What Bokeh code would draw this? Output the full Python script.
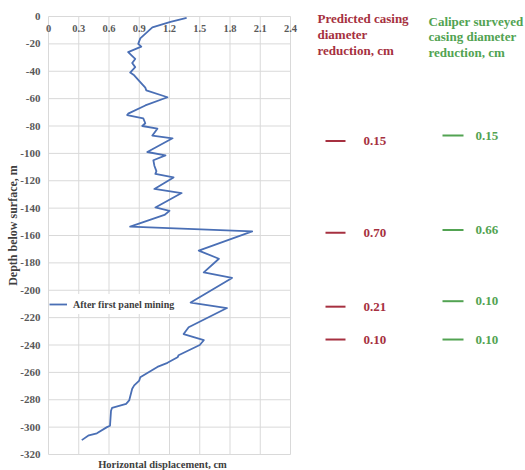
import math
from bokeh.plotting import figure
from bokeh.models import Range1d, Legend, LegendItem
from bokeh.core.properties import value
from bokeh.embed import file_html
from bokeh.resources import INLINE

# Horizontal displacement profile of the casing (depth in m, displacement in cm)
depth = [-1, -4, -8, -12, -16, -20, -22, -26, -31, -34, -37, -41, -43, -48, -52, -54,
         -59, -65, -71, -72, -74.5, -78, -80, -82, -87, -89, -99, -101.5, -105, -109,
         -113, -115, -117.6, -126, -129, -139.5, -142, -145, -153.5, -157, -171, -177,
         -187, -191, -209, -213, -227, -232, -236.5, -240, -247.5, -249, -253, -256,
         -263.5, -266, -269.5, -272, -280.5, -283, -286, -288, -299, -300, -304.5,
         -306, -309.5]
disp = [1.37, 1.21, 1.03, 0.97, 0.91, 0.89, 0.92, 0.79, 0.86, 0.83, 0.86, 0.81, 0.85,
        0.91, 0.96, 0.97, 1.18, 0.96, 0.79, 0.78, 0.94, 0.96, 0.93, 1.08, 1.03, 1.23,
        0.98, 1.16, 1.04, 1.05, 1.07, 1.06, 1.24, 1.05, 1.32, 1.06, 1.20, 1.15, 0.81,
        2.02, 1.49, 1.69, 1.54, 1.82, 1.41, 1.77, 1.39, 1.34, 1.54, 1.50, 1.29, 1.28,
        1.18, 1.08, 0.91, 0.90, 0.85, 0.83, 0.80, 0.77, 0.63, 0.62, 0.61, 0.58, 0.48,
        0.40, 0.33]

x_ticks = [0, 0.3, 0.6, 0.9, 1.2, 1.5, 1.8, 2.1, 2.4]
x_tick_labels = ["0", "0.3", "0.6", "0.9", "1.2", "1.5", "1.8", "2.1", "2.4"]
y_ticks = [0, -20, -40, -60, -80, -100, -120, -140, -160, -180, -200, -220, -240,
           -260, -280, -300, -320]
y_tick_labels = [str(t) for t in y_ticks]

# Casing diameter reductions at the deformation zones
pred_depth = [-91, -158, -212, -236]
pred_val = [0.15, 0.70, 0.21, 0.10]
cal_depth = [-87, -156, -208, -236]
cal_val = [0.15, 0.66, 0.10, 0.10]

pred_title = ["Predicted casing", "diameter", "reduction, cm"]
cal_title = ["Caliper surveyed", "casing diameter", "reduction, cm"]

SERIF = value("Liberation Serif")
GRID = "#D9D9D9"
BLUE = "#4A6FB5"
RED = "#A63040"
GREEN = "#52A352"
TICK = "#595959"
TITLE = "#404040"

W, H = 525, 470
# plot box: x 0..2.4 spans pixels 48..290, depth 0..-320 spans pixels 16..454
X0_PX, X1_PX = 48, 290
Y0_PX, Y1_PX = 16, 454
sx = (X1_PX - X0_PX) / 2.4
sy = (Y1_PX - Y0_PX) / 320.0

p = figure(width=W, height=H,
           x_range=Range1d(-X0_PX / sx, (W - X0_PX) / sx),
           y_range=Range1d(-(H - Y0_PX) / sy, Y0_PX / sy),
           output_backend="svg", toolbar_location=None,
           x_axis_location=None, y_axis_location=None,
           min_border=0, min_border_left=0, min_border_right=0,
           min_border_top=0, min_border_bottom=0)
p.grid.visible = False
p.outline_line_color = None
p.background_fill_color = "white"
p.border_fill_color = "white"
# pixel-based ranges for the side panel
p.extra_x_ranges = {"px": Range1d(0, W)}
p.extra_y_ranges = {"px": Range1d(H, 0)}

# gridlines of the displacement plot
p.segment(x0=[0] * len(y_ticks), x1=[2.4] * len(y_ticks), y0=y_ticks, y1=y_ticks,
          line_color=GRID, line_width=1)
p.segment(x0=x_ticks, x1=x_ticks, y0=[-320] * len(x_ticks), y1=[0] * len(x_ticks),
          line_color=GRID, line_width=1)

# tick labels
p.text(x=x_ticks, y=[0] * len(x_ticks), text=x_tick_labels, y_offset=12,
       text_align="center", text_baseline="middle", text_font=SERIF,
       text_font_style="bold", text_font_size="10.5px", text_color=TICK)
p.text(x=[0] * len(y_ticks), y=y_ticks, text=y_tick_labels, x_offset=-8,
       text_align="right", text_baseline="middle", text_font=SERIF,
       text_font_style="bold", text_font_size="11px", text_color=TICK)

# axis titles
p.text(x=[162], y=[-320], text=["Horizontal displacement, cm"], y_offset=10,
       x_range_name="px", text_align="center", text_baseline="middle",
       text_font=SERIF, text_font_style="bold", text_font_size="10.5px",
       text_color=TITLE)
p.text(x=[12], y=[225], text=["Depth below surface, m"], x_range_name="px",
       y_range_name="px", angle=math.pi / 2, text_align="center",
       text_baseline="middle", text_font=SERIF, text_font_style="bold",
       text_font_size="12px", text_color=TITLE)

line = p.line(disp, depth, line_color=BLUE, line_width=1.8, line_join="round")

legend = Legend(items=[LegendItem(label="After first panel mining", renderers=[line])],
                location=(49, 156), padding=6, margin=0, spacing=0,
                glyph_width=18, label_standoff=6, border_line_color=None,
                background_fill_color="white", background_fill_alpha=1.0,
                label_text_font="Liberation Serif", label_text_font_style="bold",
                label_text_font_size="10px", label_text_color=TITLE)
p.add_layout(legend)

# side panel: predicted vs. surveyed casing diameter reduction
p.text(x=[317] * 3, y=[18, 34, 50], text=pred_title, x_range_name="px",
       y_range_name="px", text_baseline="middle", text_font=SERIF,
       text_font_style="bold", text_font_size="13px", text_color=RED)
p.text(x=[428] * 3, y=[21, 36, 52], text=cal_title, x_range_name="px",
       y_range_name="px", text_baseline="middle", text_font=SERIF,
       text_font_style="bold", text_font_size="13px", text_color=GREEN)

p.segment(x0=[325] * len(pred_depth), x1=[345] * len(pred_depth), y0=pred_depth,
          y1=pred_depth, x_range_name="px", line_color=RED, line_width=2)
p.text(x=[363] * len(pred_depth), y=pred_depth, text=["%.2f" % v for v in pred_val],
       x_range_name="px", text_font=SERIF, text_font_style="bold",
       text_font_size="13px", text_color=RED, text_baseline="middle")

p.segment(x0=[442] * len(cal_depth), x1=[463] * len(cal_depth), y0=cal_depth,
          y1=cal_depth, x_range_name="px", line_color=GREEN, line_width=2)
p.text(x=[475] * len(cal_depth), y=cal_depth, text=["%.2f" % v for v in cal_val],
       x_range_name="px", text_font=SERIF, text_font_style="bold",
       text_font_size="13px", text_color=GREEN, text_baseline="middle")

open("out.html", "w").write(file_html(p, INLINE))
